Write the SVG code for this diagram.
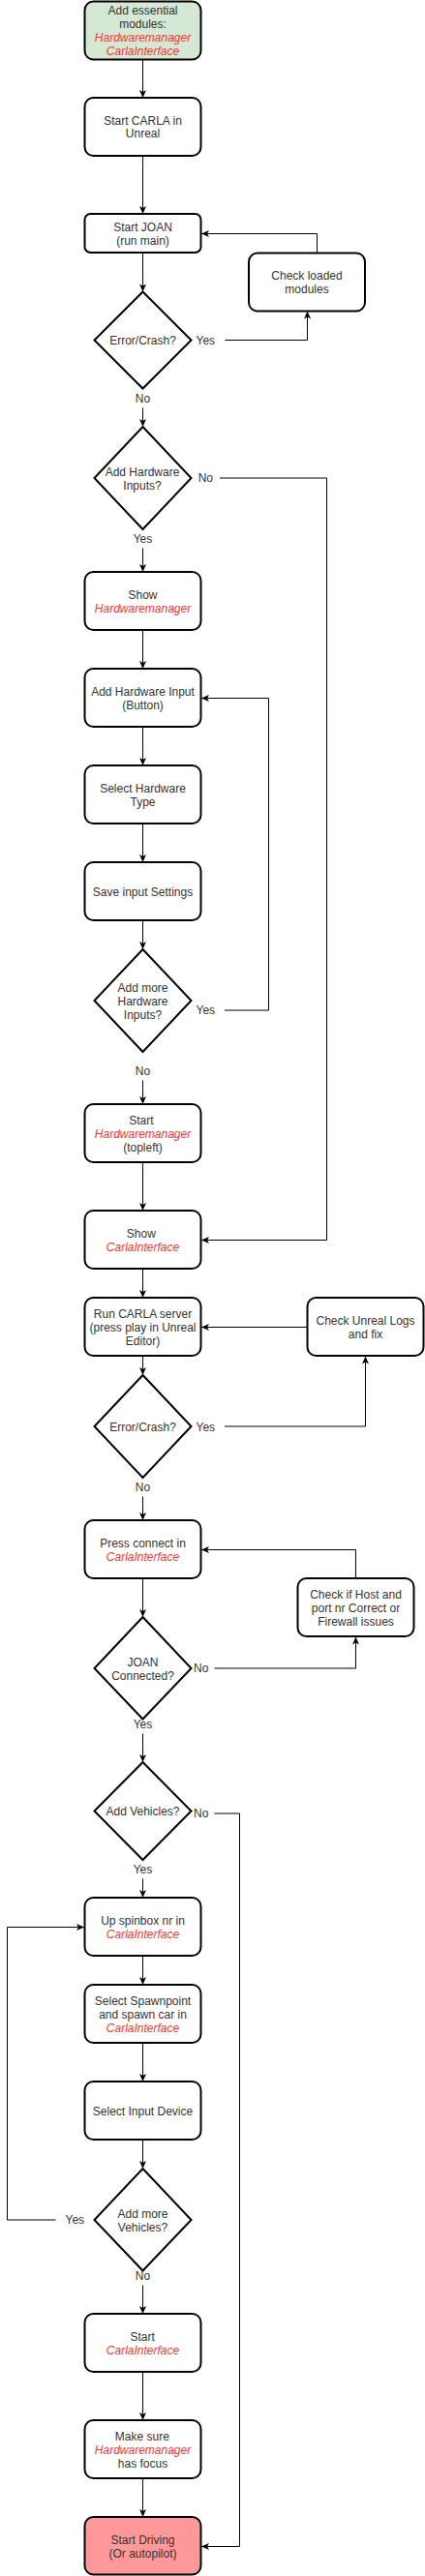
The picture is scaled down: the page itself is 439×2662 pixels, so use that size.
<svg xmlns="http://www.w3.org/2000/svg" width="439" height="2662" viewBox="0 0 439 2662">
<style>
.n{fill:#fff;stroke:#000;stroke-width:2}
.g{fill:#d5e8d4}
.p{fill:#ff9999}
text{font-family:"Liberation Sans",Arial,sans-serif;font-size:12px;fill:#333;text-anchor:middle}
.r{fill:#ff3333;font-style:italic}
.c{fill:none;stroke:#000;stroke-width:1}
.lb{fill:#333}
</style>
<defs>
<marker id="a" markerUnits="userSpaceOnUse" markerWidth="9" markerHeight="8" refX="8" refY="4" orient="auto">
<path d="M0,0.5 L8,4 L0,7.5 L2,4 Z" fill="#000"/>
</marker>
</defs>
<rect width="439" height="2662" fill="#fff"/>
<g id="connectors">
<path class="c" d="M147.5,61.5 V101" marker-end="url(#a)"/>
<path class="c" d="M147.5,161 V221" marker-end="url(#a)"/>
<path class="c" d="M147.5,261 V301.5" marker-end="url(#a)"/>
<path class="c" d="M232.5,351.5 H317.5 V321.5" marker-end="url(#a)"/>
<path class="c" d="M327.5,261.5 V241.5 H208" marker-end="url(#a)"/>
<path class="c" d="M147.5,421.5 V441" marker-end="url(#a)"/>
<path class="c" d="M227,494 H337.5 V1281.5 H208" marker-end="url(#a)"/>
<path class="c" d="M147.5,566.5 V591" marker-end="url(#a)"/>
<path class="c" d="M147.5,651 V691" marker-end="url(#a)"/>
<path class="c" d="M147.5,751 V791" marker-end="url(#a)"/>
<path class="c" d="M147.5,851 V891" marker-end="url(#a)"/>
<path class="c" d="M147.5,951 V981" marker-end="url(#a)"/>
<path class="c" d="M232,1044 H277.5 V721.5 H208" marker-end="url(#a)"/>
<path class="c" d="M147.5,1116.5 V1141" marker-end="url(#a)"/>
<path class="c" d="M147.5,1201 V1251" marker-end="url(#a)"/>
<path class="c" d="M147.5,1311 V1341" marker-end="url(#a)"/>
<path class="c" d="M147.5,1401 V1421" marker-end="url(#a)"/>
<path class="c" d="M232,1474 H377.5 V1401.5" marker-end="url(#a)"/>
<path class="c" d="M317.5,1371.5 H208" marker-end="url(#a)"/>
<path class="c" d="M147.5,1546.5 V1571" marker-end="url(#a)"/>
<path class="c" d="M147.5,1631 V1671" marker-end="url(#a)"/>
<path class="c" d="M221.5,1724 H367.5 V1691.5" marker-end="url(#a)"/>
<path class="c" d="M367.5,1631 V1601.5 H208" marker-end="url(#a)"/>
<path class="c" d="M147.5,1791.5 V1821" marker-end="url(#a)"/>
<path class="c" d="M221.5,1874 H247.5 V2631.5 H208" marker-end="url(#a)"/>
<path class="c" d="M147.5,1941.5 V1961" marker-end="url(#a)"/>
<path class="c" d="M147.5,2021 V2051" marker-end="url(#a)"/>
<path class="c" d="M147.5,2111 V2151" marker-end="url(#a)"/>
<path class="c" d="M147.5,2211 V2241" marker-end="url(#a)"/>
<path class="c" d="M57.5,2294 H7.5 V1991.5 H87" marker-end="url(#a)"/>
<path class="c" d="M147.5,2361.5 V2391" marker-end="url(#a)"/>
<path class="c" d="M147.5,2451 V2501" marker-end="url(#a)"/>
<path class="c" d="M147.5,2561 V2601" marker-end="url(#a)"/>
<text x="212.3" y="355.8">Yes</text>
<text x="147.5" y="415.8">No</text>
<text x="212.3" y="498.3">No</text>
<text x="147.5" y="560.8">Yes</text>
<text x="212.3" y="1048.3">Yes</text>
<text x="147.5" y="1111">No</text>
<text x="212.3" y="1479.3">Yes</text>
<text x="147.5" y="1541">No</text>
<text x="207.7" y="1728.3">No</text>
<text x="147.5" y="1786">Yes</text>
<text x="207.7" y="1878.3">No</text>
<text x="147.5" y="1936">Yes</text>
<text x="77.3" y="2298.3">Yes</text>
<text x="147.5" y="2356">No</text>
</g>
<g id="n1"><rect class="n g" x="87.5" y="1.5" width="120" height="60" rx="9"/>
<text x="147.5" y="15">Add essential</text><text x="147.5" y="29.3">modules:</text>
<text class="r" x="147.5" y="43.3">Hardwaremanager</text><text class="r" x="147.5" y="57">CarlaInterface</text></g>
<g id="n2"><rect class="n" x="87.5" y="101" width="120" height="60" rx="9"/>
<text x="147.5" y="129">Start CARLA in</text><text x="147.5" y="142.3">Unreal</text></g>
<g id="n3"><rect class="n" x="87.5" y="221" width="120" height="40" rx="6"/>
<text x="147.5" y="239.3">Start JOAN</text><text x="147.5" y="253.3">(run main)</text></g>
<g id="n4"><rect class="n" x="257" y="261.5" width="120" height="60" rx="9"/>
<text x="317" y="288.6">Check loaded</text><text x="317" y="303.3">modules</text></g>
<g id="d1"><polygon class="n" points="147.5,301.5 197.5,351.5 147.5,401.5 97.5,351.5"/>
<text x="147.5" y="355.8">Error/Crash?</text></g>
<g id="d2"><polygon class="n" points="147.5,441 197.5,494 147.5,547 97.5,494"/>
<text x="147" y="492">Add Hardware</text><text x="147" y="506.3">Inputs?</text></g>
<g id="n5"><rect class="n" x="87.5" y="591" width="120" height="60" rx="9"/>
<text x="147.5" y="618.6">Show</text><text class="r" x="147.5" y="633.3">Hardwaremanager</text></g>
<g id="n6"><rect class="n" x="87.5" y="691" width="120" height="60" rx="9"/>
<text x="147.5" y="718.6">Add Hardware Input</text><text x="147.5" y="733">(Button)</text></g>
<g id="n7"><rect class="n" x="87.5" y="791" width="120" height="60" rx="9"/>
<text x="147.5" y="818.6">Select Hardware</text><text x="147.5" y="833">Type</text></g>
<g id="n8"><rect class="n" x="87.5" y="891" width="120" height="60" rx="9"/>
<text x="147.5" y="926">Save input Settings</text></g>
<g id="d3"><polygon class="n" points="147.5,981 197.5,1034 147.5,1087 97.5,1034"/>
<text x="147.5" y="1025">Add more</text><text x="147.5" y="1039">Hardware</text><text x="147.5" y="1053">Inputs?</text></g>
<g id="n9"><rect class="n" x="87.5" y="1141" width="120" height="60" rx="9"/>
<text x="145.8" y="1162">Start</text><text class="r" x="147.5" y="1176">Hardwaremanager</text><text x="147.5" y="1190">(topleft)</text></g>
<g id="n10"><rect class="n" x="87.5" y="1251" width="120" height="60" rx="9"/>
<text x="145.8" y="1278.6">Show</text><text class="r" x="147.5" y="1293">CarlaInterface</text></g>
<g id="n11"><rect class="n" x="87.5" y="1341" width="120" height="60" rx="9"/>
<text x="147.5" y="1362">Run CARLA server</text><text x="147.5" y="1376">(press play in Unreal</text><text x="147.5" y="1390">Editor)</text></g>
<g id="n12"><rect class="n" x="317.5" y="1341" width="120" height="60" rx="9"/>
<text x="377.5" y="1369.3">Check Unreal Logs</text><text x="377.5" y="1383.3">and fix</text></g>
<g id="d4"><polygon class="n" points="147.5,1421 197.5,1474 147.5,1527 97.5,1474"/>
<text x="147.5" y="1479">Error/Crash?</text></g>
<g id="n13"><rect class="n" x="87.5" y="1571" width="120" height="60" rx="9"/>
<text x="147.5" y="1598.6">Press connect in</text><text class="r" x="147.5" y="1613">CarlaInterface</text></g>
<g id="n14"><rect class="n" x="307.5" y="1631" width="120" height="60" rx="9"/>
<text x="367.5" y="1652">Check if Host and</text><text x="367.5" y="1666">port nr Correct or</text><text x="367.5" y="1680">Firewall issues</text></g>
<g id="d5"><polygon class="n" points="147.5,1671 197.5,1724 147.5,1776.5 97.5,1724"/>
<text x="147.5" y="1722">JOAN</text><text x="147.5" y="1736.3">Connected?</text></g>
<g id="d6"><polygon class="n" points="147.5,1821 197.5,1871.5 147.5,1922 97.5,1871.5"/>
<text x="147.5" y="1876">Add Vehicles?</text></g>
<g id="n15"><rect class="n" x="87.5" y="1961" width="120" height="60" rx="9"/>
<text x="147.5" y="1989.3">Up spinbox nr in</text><text class="r" x="147.5" y="2003.3">CarlaInterface</text></g>
<g id="n16"><rect class="n" x="87.5" y="2051" width="120" height="60" rx="9"/>
<text x="147.5" y="2072">Select Spawnpoint</text><text x="147.5" y="2086">and spawn car in</text><text class="r" x="147.5" y="2100">CarlaInterface</text></g>
<g id="n17"><rect class="n" x="87.5" y="2151" width="120" height="60" rx="9"/>
<text x="147.5" y="2186">Select Input Device</text></g>
<g id="d7"><polygon class="n" points="147.5,2241 197.5,2294 147.5,2346.5 97.5,2294"/>
<text x="147.5" y="2292">Add more</text><text x="147.5" y="2306.3">Vehicles?</text></g>
<g id="n18"><rect class="n" x="87.5" y="2391" width="120" height="60" rx="9"/>
<text x="147.2" y="2418.6">Start</text><text class="r" x="147.5" y="2433">CarlaInterface</text></g>
<g id="n19"><rect class="n" x="87.5" y="2501" width="120" height="60" rx="9"/>
<text x="146.8" y="2522">Make sure</text><text class="r" x="147.5" y="2536">Hardwaremanager</text><text x="147.5" y="2550">has focus</text></g>
<g id="n20"><rect class="n p" x="87.5" y="2601" width="120" height="59.5" rx="9"/>
<text x="147.5" y="2628.6">Start Driving</text><text x="147.5" y="2643">(Or autopilot)</text></g>
</svg>
